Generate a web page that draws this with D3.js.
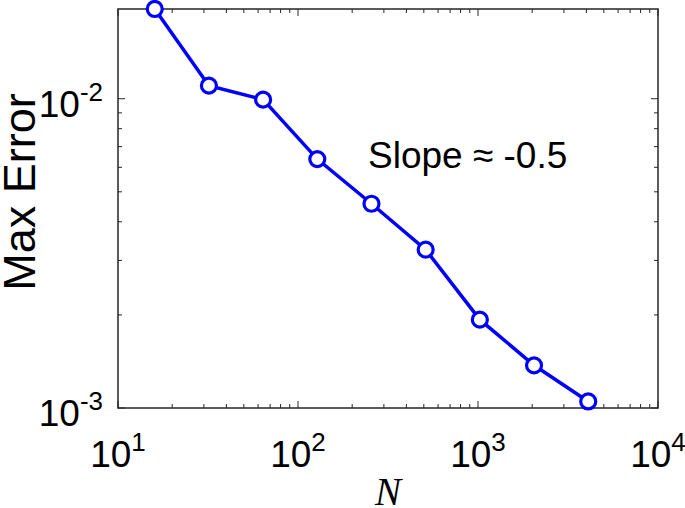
<!DOCTYPE html>
<html>
<head>
<meta charset="utf-8">
<script src="https://cdn.jsdelivr.net/npm/d3@7"></script>
<style>
  body { margin: 0; background: #fff; }
  text { font-family: "Liberation Sans", Arial, Helvetica, sans-serif; fill: #000; }
</style>
</head>
<body>
<div id="chart"></div>
<script>
// convergence data
var sizes = [16, 32, 64, 128, 256, 512, 1024, 2048, 4096];
var maxErrors = [0.0195, 0.01102, 0.00993, 0.00638, 0.004575, 0.00325, 0.00193, 0.001374, 0.00105];
var xTickExp = [1, 2, 3, 4];
var yTickExp = [-3, -2];
var xDomain = [10, 10000];
var yDomain = [0.001, 0.0195];

var W = 685, H = 508;
var margin = {top: 9, right: 27, bottom: 100, left: 118},
    width = W - margin.left - margin.right,
    height = H - margin.top - margin.bottom;

var svg = d3.select("#chart").append("svg")
    .attr("width", W)
    .attr("height", H);

var g = svg.append("g")
    .attr("transform", "translate(" + margin.left + "," + margin.top + ")");

var x = d3.scaleLog().domain(xDomain).range([0, width]);
var y = d3.scaleLog().domain(yDomain).range([height, 0]);

// minor + major ticks for the log axes
var xMinor = [], yMinor = [];
for (var e = 1; e < 4; e++) for (var m = 2; m < 10; m++) xMinor.push(m * Math.pow(10, e));
for (var m = 2; m < 10; m++) yMinor.push(m * 0.001);
var xMajor = xTickExp.map(function(p) { return Math.pow(10, p); });
var yMajor = yTickExp.map(function(p) { return Math.pow(10, p); });

var axisColor = "#262626";

function tickLines(vals, len, horiz) {
    vals.forEach(function(v) {
        if (horiz) {
            var px = x(v);
            g.append("line").attr("x1", px).attr("x2", px).attr("y1", height).attr("y2", height - len)
                .attr("stroke", axisColor).attr("stroke-width", 1);
            g.append("line").attr("x1", px).attr("x2", px).attr("y1", 0).attr("y2", len)
                .attr("stroke", axisColor).attr("stroke-width", 1);
        } else {
            var py = y(v);
            g.append("line").attr("x1", 0).attr("x2", len).attr("y1", py).attr("y2", py)
                .attr("stroke", axisColor).attr("stroke-width", 1);
            g.append("line").attr("x1", width).attr("x2", width - len).attr("y1", py).attr("y2", py)
                .attr("stroke", axisColor).attr("stroke-width", 1);
        }
    });
}
tickLines(xMinor, 4, true);
tickLines(xMajor, 7, true);
tickLines(yMinor, 4, false);
tickLines(yMajor, 7, false);

// box
g.append("rect")
    .attr("x", 0).attr("y", 0)
    .attr("width", width).attr("height", height)
    .attr("fill", "none")
    .attr("stroke", axisColor)
    .attr("stroke-width", 1.5);

// x tick labels
xTickExp.forEach(function(p) {
    var t = g.append("text")
        .attr("x", x(Math.pow(10, p)))
        .attr("y", height + 59)
        .attr("text-anchor", "middle")
        .style("font-size", "37px");
    t.append("tspan").text("10");
    t.append("tspan").attr("dy", -16).style("font-size", "26px").text(p);
});

// y tick labels
yTickExp.forEach(function(p) {
    var t = g.append("text")
        .attr("x", -15)
        .attr("y", y(Math.pow(10, p)) + 18)
        .attr("text-anchor", "end")
        .style("font-size", "37px");
    t.append("tspan").text("10");
    t.append("tspan").attr("dy", -16).style("font-size", "26px").text(p);
});

// axis labels
svg.append("text")
    .attr("transform", "translate(35,192) rotate(-90)")
    .attr("text-anchor", "middle")
    .style("font-size", "45px")
    .text("Max Error");

svg.append("text")
    .attr("x", margin.left + width / 2)
    .attr("y", 505)
    .attr("text-anchor", "middle")
    .style("font-family", "'Liberation Serif', 'DejaVu Serif', serif")
    .style("font-style", "italic")
    .style("font-size", "39px")
    .text("N");

// data line
var line = d3.line()
    .x(function(d, i) { return x(sizes[i]); })
    .y(function(d) { return y(d); });

g.append("path")
    .datum(maxErrors)
    .attr("d", line)
    .attr("fill", "none")
    .attr("stroke", "#0000ff")
    .attr("stroke-width", 3.5);

g.selectAll("circle.pt")
    .data(maxErrors)
    .enter().append("circle")
    .attr("class", "pt")
    .attr("cx", function(d, i) { return x(sizes[i]); })
    .attr("cy", function(d) { return y(d); })
    .attr("r", 7.5)
    .attr("fill", "#fff")
    .attr("stroke", "#0000ff")
    .attr("stroke-width", 3.2);

// annotation
g.append("text")
    .attr("x", 368 - margin.left)
    .attr("y", 168 - margin.top)
    .style("font-size", "37px")
    .text("Slope \u2248 -0.5");
</script>
</body>
</html>
